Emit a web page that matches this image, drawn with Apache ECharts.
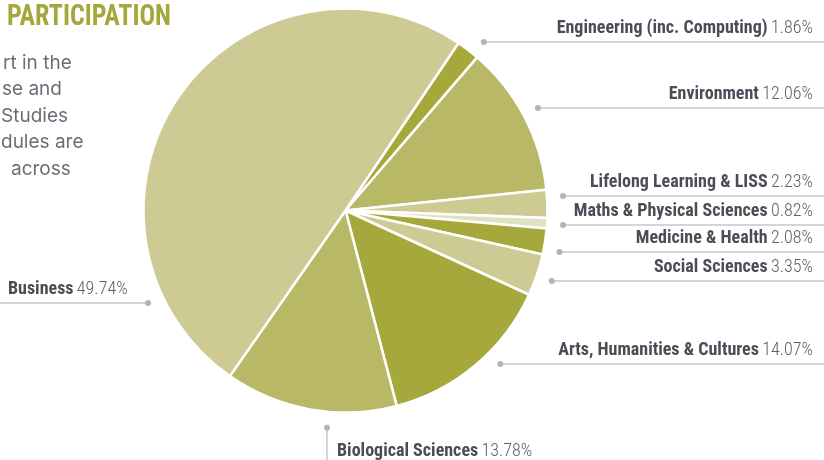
<!DOCTYPE html>
<html><head><meta charset="utf-8">
<script src="https://cdn.jsdelivr.net/npm/echarts@6/dist/echarts.min.js"></script>
<style>html,body{margin:0;padding:0;background:#fff;overflow:hidden}#c{width:824px;height:460px}</style>
</head><body><div id="c"></div>
<script>
// ---- data ----
const categories = ['Engineering (inc. Computing)', 'Environment', 'Lifelong Learning & LISS', 'Maths & Physical Sciences', 'Medicine & Health', 'Social Sciences', 'Arts, Humanities & Cultures', 'Biological Sciences', 'Business'];
const shares = [1.86, 12.06, 2.23, 0.82, 2.08, 3.35, 14.07, 13.78, 49.74];
const titleText = 'PARTICIPATION';
const introLines = ['rt in the', 'se and', 'Studies', 'dules are', 'across'];

// ---- layout / style ----
const W = 824, H = 460, CX = 345.5, CY = 210.5, R = 202, RDOT = 218;
const palette = ['#A6A83B', '#B9B867', '#CDCA93', '#E2E0C2', '#A6A83B', '#CDCA93', '#A6A83B', '#B9B867', '#CDCA93'];
const COND = "'Roboto Condensed', 'Liberation Sans Narrow', sans-serif";
const labelPlace = [
  {side: 'right', y: 42}, {side: 'right', y: 108}, {side: 'right', y: 196}, {side: 'right', y: 225},
  {side: 'right', y: 252}, {side: 'right', y: 281}, {side: 'right', y: 364},
  {side: 'bottom', x: 327}, {side: 'left', y: 303}
];
const geo = labelPlace.map(function (p) {
  if (p.side === 'right') {
    const dx = CX + Math.sqrt(RDOT * RDOT - (p.y - CY) * (p.y - CY));
    return {dot: [dx, p.y], pts: [[dx, p.y], [dx + 1, p.y], [W, p.y]], lx: W - 11, ly: p.y - 14, align: 'right'};
  } else if (p.side === 'left') {
    const dx = CX - Math.sqrt(RDOT * RDOT - (p.y - CY) * (p.y - CY));
    return {dot: [dx, p.y], pts: [[dx, p.y], [dx - 1, p.y], [0, p.y]], lx: 8, ly: p.y - 14, align: 'left'};
  } else {
    const dy = CY + Math.sqrt(RDOT * RDOT - (p.x - CX) * (p.x - CX));
    return {dot: [p.x, dy], pts: [[p.x, dy], [p.x, dy + 1], [p.x, H]], lx: p.x + 10, ly: 451, align: 'left'};
  }
});

const chart = echarts.init(document.getElementById('c'), null, {renderer: 'canvas'});

const graphics = [
  {type: 'text', x: 7, y: 17.5, scaleY: 1.13, z: 10,
   style: {text: titleText, font: "bold 26px " + COND, fill: '#A5A73C', textVerticalAlign: 'middle'}}
];
const introX = [3, 2, 1, 1, 11];
const introY = [63, 89.5, 116, 142.5, 169];
introLines.forEach(function (t, i) {
  graphics.push({type: 'text', x: introX[i], y: introY[i], z: 10,
    style: {text: t, font: "400 19px Inter, 'Noto Sans', sans-serif", fill: '#6C6E77', textVerticalAlign: 'middle'}});
});
geo.forEach(function (g) {
  graphics.push({type: 'circle', z: 10, shape: {cx: g.dot[0], cy: g.dot[1], r: 3}, style: {fill: '#B2B4B7'}});
});

chart.setOption({
  animation: false,
  backgroundColor: '#ffffff',
  graphic: graphics,
  series: [{
    type: 'pie',
    center: [CX, CY],
    radius: [0, R],
    startAngle: 56,
    clockwise: true,
    data: categories.map(function (n, i) { return {name: n, value: shares[i], itemStyle: {color: palette[i]}}; }),
    itemStyle: {borderColor: '#ffffff', borderWidth: 2.5},
    emphasis: {disabled: true},
    label: {
      show: true,
      position: 'outside',
      width: 420,
      overflow: 'none',
      formatter: '{n|{b}} {p|{c}%}',
      lineHeight: 20,
      rich: {
        n: {fontFamily: COND, fontWeight: 'bold', fontSize: 18, color: '#4A4D56', lineHeight: 20},
        p: {fontFamily: COND, fontWeight: 300, fontSize: 18, color: '#5E6169', lineHeight: 20}
      }
    },
    labelLine: {show: true, lineStyle: {color: '#C6C7CA', width: 1.5}},
    labelLayout: function (params) {
      const g = geo[params.dataIndex];
      return {x: g.lx, y: g.ly, align: g.align, verticalAlign: 'middle', labelLinePoints: g.pts, hideOverlap: false};
    }
  }]
});
</script>
</body></html>
